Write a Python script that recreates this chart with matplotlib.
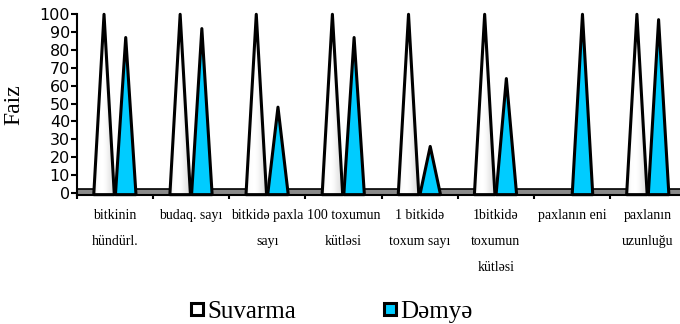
import numpy as np
import matplotlib
matplotlib.use("Agg")
import matplotlib.pyplot as plt
from matplotlib.patches import Polygon, Rectangle
from matplotlib.lines import Line2D

categories = ["bitkinin\nhündürl.", "budaq. sayı", "bitkidə paxla\nsayı", "100 toxumun\nkütləsi",
              "1 bitkidə\ntoxum sayı", "1bitkidə\ntoxumun\nkütləsi", "paxlanın eni", "paxlanın\nuzunluğu"]
suvarma = [100, 100, 100, 100, 100, 100, 0, 100]
demye = [87, 92, 48, 87, 26, 64, 100, 97]
series_names = ["Suvarma", "Dəmyə"]
yticks = list(range(0, 101, 10))

BLUE = "#00CCFF"

fig = plt.figure(figsize=(6.8, 3.24), dpi=100)
ax = fig.add_axes([77/680, (324-195)/324, 609/680, (195-14.3)/324])
ax.set_xlim(0, 8)
ax.set_ylim(-1.2, 100)

# floor band
ax.add_patch(Rectangle((0, -1.2), 8, 3.4, facecolor="#8a8a8a", edgecolor="black",
                       lw=1.2, zorder=1, clip_on=False))

hw = 0.135
grad = np.array([[0.93, 0.99, 1.0, 1.0, 0.98, 0.94, 0.9, 0.86]])
for i, (s, d) in enumerate(zip(suvarma, demye)):
    if s > 0:
        xc = i + 0.355
        verts = [(xc - hw, -1.0), (xc, s), (xc + hw, -1.0)]
        poly = Polygon(verts, closed=True, facecolor="none", edgecolor="black",
                       lw=2.2, joinstyle="round", zorder=4, clip_on=False)
        im = ax.imshow(grad, cmap="gray", vmin=0, vmax=1, aspect="auto",
                       extent=(xc - hw, xc + hw, -1.0, s), zorder=3,
                       interpolation="bilinear")
        clip = Polygon(verts, closed=True, transform=ax.transData)
        im.set_clip_path(clip)
        ax.add_patch(poly)
    if d > 0:
        xc = i + 0.64
        verts = [(xc - hw, -1.0), (xc, d), (xc + hw, -1.0)]
        ax.add_patch(Polygon(verts, closed=True, facecolor=BLUE, edgecolor="black",
                             lw=2.2, joinstyle="round", zorder=4, clip_on=False))
ax.set_xlim(0, 8)
ax.set_ylim(-1.2, 100)

for sp in ["top", "right"]:
    ax.spines[sp].set_visible(False)
ax.spines["left"].set_linewidth(1.5)
ax.spines["bottom"].set_linewidth(1.5)
ax.spines["left"].set_bounds(-1.2, 100)

ax.set_yticks(yticks)
ax.set_yticklabels([str(v) for v in yticks], fontsize=11.5, family="DejaVu Sans")
ax.tick_params(axis="y", direction="out", length=4, width=1.5, pad=1)

ax.set_xticks(range(8))
ax.set_xticklabels([])
ax.tick_params(axis="x", which="major", direction="out", length=3, width=1.5)
ax.set_xticks([i + 0.5 for i in range(8)], minor=True)
ax.set_xticklabels(categories, minor=True, fontsize=10, family="Liberation Serif",
                   linespacing=2.3, va="top")
ax.tick_params(axis="x", which="minor", length=0, pad=10)

ax.set_ylabel("Faiz", fontsize=17, family="Liberation Serif", labelpad=11)

handles = [Line2D([], [], marker="s", linestyle="none", markersize=9,
                  markerfacecolor="white", markeredgecolor="black", markeredgewidth=2.2),
           Line2D([], [], marker="s", linestyle="none", markersize=9,
                  markerfacecolor=BLUE, markeredgecolor="black", markeredgewidth=2.2)]
fig.legend(handles, series_names, loc="center", bbox_to_anchor=(0.486, 0.038), ncol=2,
           frameon=False, prop={"family": "Liberation Serif", "size": 18},
           handletextpad=0.05, columnspacing=3.4, handlelength=0.7)

fig.savefig("out.png", dpi=100)
